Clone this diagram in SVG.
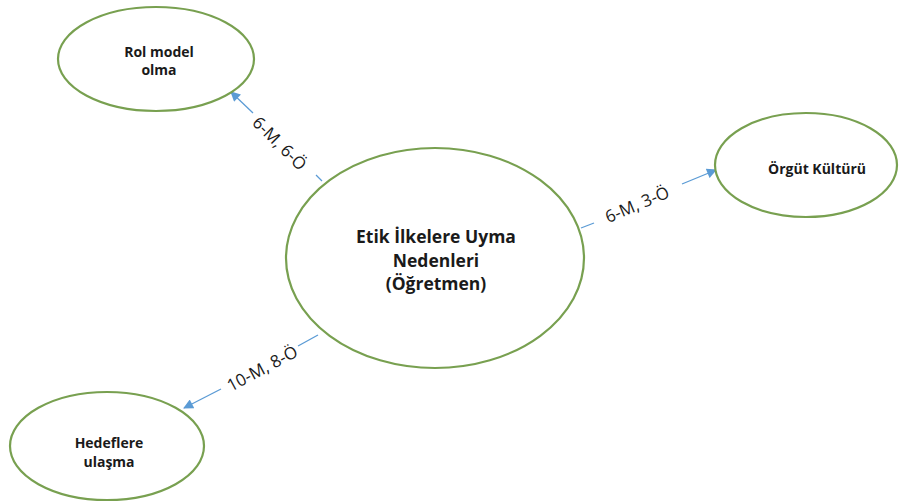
<svg xmlns="http://www.w3.org/2000/svg" width="901" height="502" viewBox="0 0 901 502">
  <style>
    .node ellipse { fill: #ffffff; stroke: #78a050; stroke-width: 2.2; }
    .node text { font-family: "Open Sans", "DejaVu Sans", sans-serif; font-weight: bold; fill: #1a1a1a; text-anchor: middle; }
    .small { font-size: 14px; }
    .big { font-size: 17.5px; }
    .edge line { stroke: #5b9bd5; stroke-width: 1.3; fill: none; }
    .edge text { font-family: "Open Sans", "DejaVu Sans", sans-serif; font-size: 17px; fill: #1a1a1a; text-anchor: middle; dominant-baseline: central; }
  </style>
  <defs>
    <marker id="arrow" viewBox="0 0 10 10" refX="9" refY="5" markerWidth="12" markerHeight="10" markerUnits="userSpaceOnUse" orient="auto">
      <path d="M0,0 L10,5 L0,10 z" fill="#5b9bd5"/>
    </marker>
  </defs>
  <rect width="901" height="502" fill="#ffffff"/>

  <g id="connectors">
    <g class="edge" id="edge-rol">
      <line x1="322" y1="181" x2="316" y2="175"/>
      <line x1="253" y1="113" x2="231" y2="92" marker-end="url(#arrow)"/>
      <text transform="translate(280,143) rotate(44.7)">6-M, 6-Ö</text>
    </g>
    <g class="edge" id="edge-orgut">
      <line x1="581" y1="228" x2="594" y2="223"/>
      <line x1="682" y1="184" x2="716" y2="170" marker-end="url(#arrow)"/>
      <text transform="translate(637,204) rotate(-22.9)">6-M, 3-Ö</text>
    </g>
    <g class="edge" id="edge-hedef">
      <line x1="318" y1="335" x2="298" y2="346"/>
      <line x1="221" y1="389" x2="184" y2="408" marker-end="url(#arrow)"/>
      <text transform="translate(262,368) rotate(-28.3)">10-M, 8-Ö</text>
    </g>
  </g>

  <g class="node" id="node-center">
    <ellipse cx="435" cy="258" rx="149" ry="110"/>
    <text class="big" x="436" y="243">Etik İlkelere Uyma</text>
    <text class="big" x="436" y="267">Nedenleri</text>
    <text class="big" x="436" y="290">(Öğretmen)</text>
  </g>

  <g class="node" id="node-rol">
    <ellipse cx="156" cy="59" rx="98" ry="52"/>
    <text class="small" x="159" y="57">Rol model</text>
    <text class="small" x="159" y="75">olma</text>
  </g>

  <g class="node" id="node-orgut">
    <ellipse cx="806" cy="165" rx="91" ry="52"/>
    <text class="small" x="817" y="174">Örgüt Kültürü</text>
  </g>

  <g class="node" id="node-hedef">
    <ellipse cx="107" cy="446" rx="97" ry="54"/>
    <text class="small" x="109" y="448">Hedeflere</text>
    <text class="small" x="109" y="467">ulaşma</text>
  </g>
</svg>
